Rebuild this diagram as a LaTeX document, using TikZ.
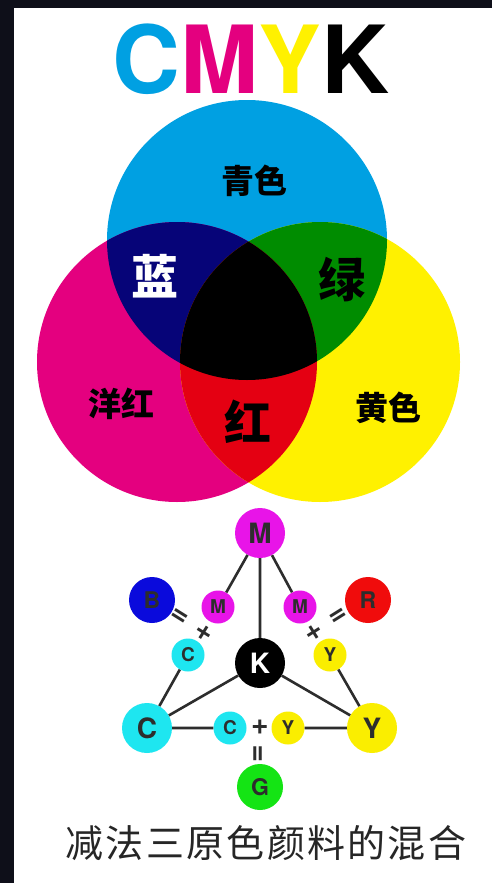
\documentclass[tikz,border=0pt]{standalone}
\usepackage{fontspec}
\setmainfont{TeX Gyre Heros}
\newfontfamily\cjk{Noto Sans CJK SC}
\usetikzlibrary{positioning}

\definecolor{frame}{RGB}{14,15,25}
\definecolor{ink}{RGB}{45,45,45}
\definecolor{cyanink}{RGB}{0,160,226}
\definecolor{magink}{RGB}{228,0,127}
\definecolor{yelink}{RGB}{255,241,0}
\definecolor{navyink}{RGB}{6,4,120}
\definecolor{greenink}{RGB}{0,140,0}
\definecolor{redink}{RGB}{228,0,18}
\definecolor{mdot}{RGB}{232,20,232}
\definecolor{cdot}{RGB}{30,230,240}
\definecolor{ydot}{RGB}{250,238,0}
\definecolor{bdot}{RGB}{10,10,220}
\definecolor{rdot}{RGB}{240,12,12}
\definecolor{gdot}{RGB}{20,228,20}

\tikzset{
  dot/.style={circle,inner sep=0pt,text=ink},
  bigdot/.style={dot,minimum size=50pt,font=\fontsize{28}{28}\selectfont\bfseries},
  middot/.style={dot,minimum size=46pt,font=\fontsize{23}{23}\selectfont\bfseries},
  smalldot/.style={dot,minimum size=33pt,font=\fontsize{19}{19}\selectfont\bfseries},
  sign/.style={inner sep=0pt,text=ink,font=\fontsize{30}{30}\selectfont\bfseries},
  link/.style={draw=ink,line width=2.6pt},
  cjklab/.style={font=\cjk\bfseries\fontsize{33}{33}\selectfont},
  cjkbig/.style={font=\cjk\bfseries\fontsize{47}{47}\selectfont}
}

\begin{document}
\begin{tikzpicture}[x=1pt,y=-1pt]
  \fill[frame] (0,0) rectangle (492,883);
  \fill[white] (14,8) rectangle (492,883);
  \useasboundingbox (0,0) rectangle (492,883);

  \node (title) at (251,59) {\fontsize{94}{94}\selectfont\bfseries
    \textcolor{cyanink}{C}\textcolor{magink}{M}\textcolor{yelink}{Y}\textcolor{black}{K}};

  % three inks
  \fill[cyanink] (247,240) circle[radius=140pt];
  \fill[magink] (177,362) circle[radius=140pt];
  \fill[yelink] (320,362) circle[radius=140pt];
  \begin{scope}
    \clip (247,240) circle[radius=140pt];
    \fill[navyink] (177,362) circle[radius=140pt];
    \fill[greenink] (320,362) circle[radius=140pt];
  \end{scope}
  \begin{scope}
    \clip (177,362) circle[radius=140pt];
    \fill[redink] (320,362) circle[radius=140pt];
    \clip (320,362) circle[radius=140pt];
    \fill[black] (247,240) circle[radius=140pt];
  \end{scope}

  \node[cjklab] (cyan) at (254,181) {青色};
  \node[cjklab] (magenta) at (121,404) {洋红};
  \node[cjklab] (yellow) at (388,408) {黄色};
  \node[cjkbig,text=white] (blue) at (155,276) {蓝};
  \node[cjkbig] (green) at (342,280) {绿};
  \node[cjkbig] (red) at (248,422) {红};

  % mixing triangle
  \node[bigdot,fill=mdot] (M) at (260,533) {M};
  \node[smalldot,fill=mdot] (m1) at (218,607) {M};
  \node[smalldot,fill=mdot] (m2) at (300,607) {M};
  \node[middot,fill=bdot] (B) at (152,600) {B};
  \node[middot,fill=rdot] (R) at (368,600) {R};
  \node[smalldot,fill=cdot] (c1) at (188,655) {C};
  \node[bigdot,fill=black,text=white] (K) at (260,663) {K};
  \node[smalldot,fill=ydot] (y1) at (330,655) {Y};
  \node[bigdot,fill=cdot] (C) at (147,728) {C};
  \node[smalldot,fill=cdot] (c2) at (230,728) {C};
  \node[smalldot,fill=ydot] (y2) at (288,728) {Y};
  \node[bigdot,fill=ydot] (Y) at (372,728) {Y};
  \node[middot,fill=gdot] (G) at (260,787) {G};

  \node[sign,rotate=-32] (plusB) at (204,633) {+};
  \node[sign,rotate=-32] (eqB) at (179,617) {=};
  \node[sign,rotate=32] (plusR) at (314,633) {+};
  \node[sign,rotate=32] (eqR) at (339,617) {=};
  \node[sign] (plusG) at (260,727) {+};
  \node[sign,rotate=90] (eqG) at (260,754) {=};

  \path[link] (M) -- (m1)
              (M) -- (m2)
              (M) -- (K)
              (c1) -- (C)
              (y1) -- (Y)
              (K) -- (C)
              (K) -- (Y)
              (C) -- (c2)
              (y2) -- (Y);

  \node[text=black!85] (caption) at (266,843)
    {\cjk\fontsize{38}{38}\selectfont\addfontfeature{LetterSpace=6}减法三原色颜料的混合};
\end{tikzpicture}
\end{document}
